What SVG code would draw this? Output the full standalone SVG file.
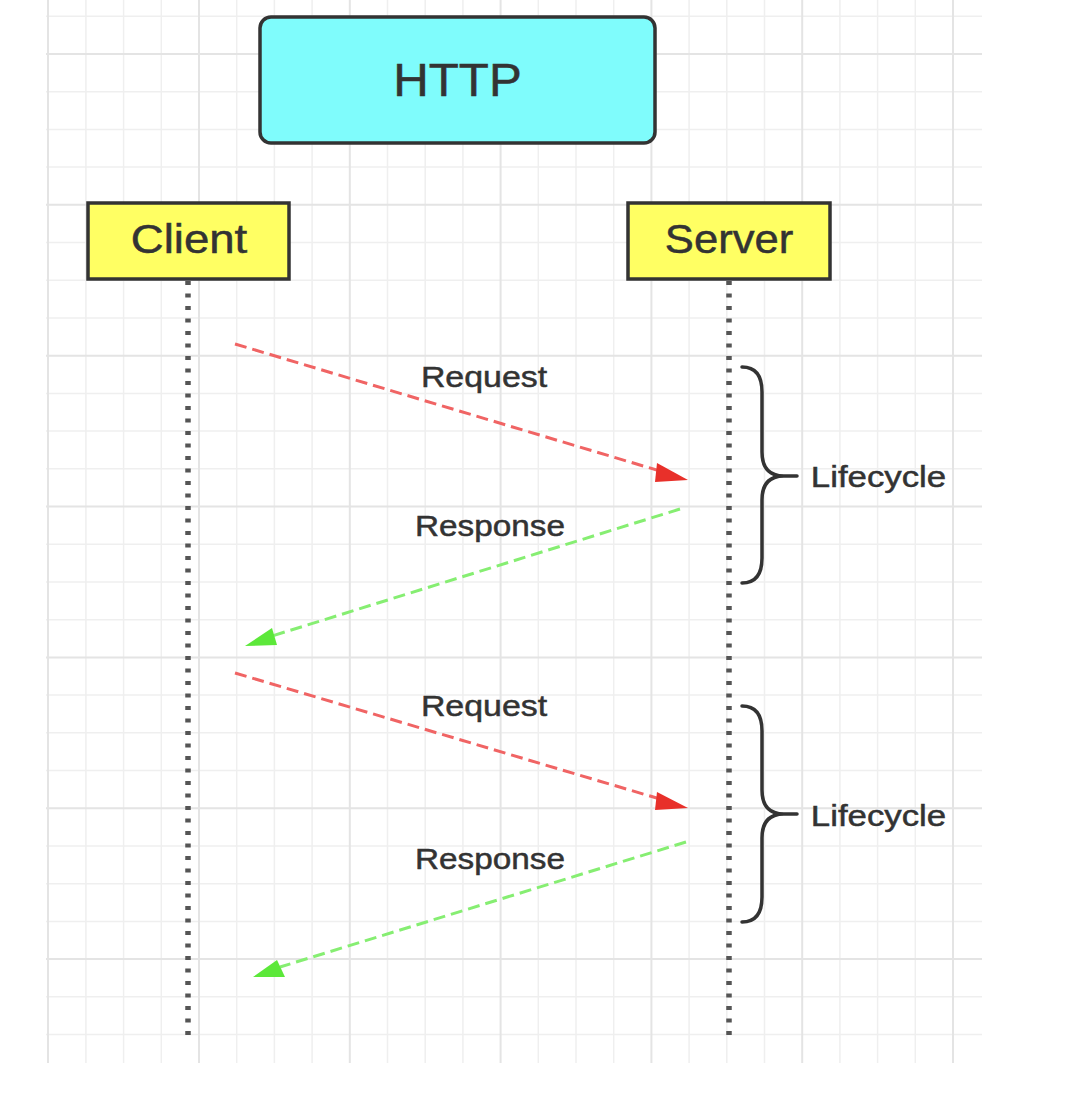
<svg xmlns="http://www.w3.org/2000/svg" width="1072" height="1104" viewBox="0 0 1072 1104">
<style>
.minor{stroke:#efefef;stroke-width:1.5;fill:none}
.major{stroke:#e4e4e4;stroke-width:2;fill:none}
.box{stroke:#333;stroke-width:3.5}
.yellow{fill:#ffff63}
.lbl{font-family:"Liberation Sans",Arial,sans-serif;fill:#333;stroke:#333;stroke-width:0.5;text-anchor:middle}
.life{stroke:#555;stroke-width:5.5;stroke-dasharray:4 8.5;fill:none}
.req{stroke:#f06464;stroke-width:3;stroke-dasharray:12 6;fill:none}
.res{stroke:#86ee72;stroke-width:3;stroke-dasharray:12 6;fill:none}
.brace{stroke:#333;stroke-width:3.5;fill:none;stroke-linecap:round}
</style>
<rect width="1072" height="1104" fill="#fff"/>
<g id="grid">
<path class="minor" d="M85.9,0V1063M123.6,0V1063M161.3,0V1063M236.7,0V1063M274.4,0V1063M312.1,0V1063M387.5,0V1063M425.2,0V1063M462.9,0V1063M538.3,0V1063M576,0V1063M613.7,0V1063M689.1,0V1063M726.8,0V1063M764.5,0V1063M839.9,0V1063M877.6,0V1063M915.3,0V1063
M46,16.3H982M46,91.7H982M46,129.4H982M46,167.1H982M46,242.6H982M46,280.3H982M46,318H982M46,393.4H982M46,431.1H982M46,468.8H982M46,544.3H982M46,582H982M46,619.7H982M46,695.1H982M46,732.8H982M46,770.5H982M46,846H982M46,883.7H982M46,921.4H982M46,996.8H982M46,1034.5H982"/>
<path class="major" d="M48,0V1063M199,0V1063M349.8,0V1063M500.6,0V1063M651.4,0V1063M802.2,0V1063M953,0V1063
M46,54H982M46,204.8H982M46,355.7H982M46,506.5H982M46,657.4H982M46,808.3H982M46,959.1H982"/>
</g>
<g id="http">
<rect class="box" x="260" y="17" width="395" height="126" rx="11" fill="#7ffcfc"/>
<text class="lbl" transform="translate(457.5,96) scale(1.07,1)" font-size="46">HTTP</text>
</g>
<g id="client">
<rect class="box yellow" x="88" y="203" width="201" height="76"/>
<text class="lbl" transform="translate(189,253) scale(1.14,1)" font-size="40">Client</text>
</g>
<g id="server">
<rect class="box yellow" x="628" y="203" width="202" height="76"/>
<text class="lbl" transform="translate(729,253) scale(1.09,1)" font-size="40">Server</text>
</g>
<g id="lifelines">
<line class="life" x1="188" y1="281" x2="188" y2="1038"/>
<line class="life" x1="729" y1="281" x2="729" y2="1038"/>
</g>
<g id="connectors">
<g id="request1">
<line class="req" x1="235" y1="344" x2="660" y2="471"/>
<polygon points="657,463 688,480 655,482" fill="#e8302a"/>
<text class="lbl" transform="translate(484,387) scale(1.13,1)" font-size="30">Request</text>
</g>
<g id="response1">
<line class="res" x1="680" y1="509" x2="272" y2="636"/>
<polygon points="245,646 272,628 277,645" fill="#5ce83a"/>
<text class="lbl" transform="translate(490,536) scale(1.11,1)" font-size="30">Response</text>
</g>
<g id="request2">
<line class="req" x1="235" y1="673" x2="660" y2="799"/>
<polygon points="657,792 688,808 655,810" fill="#e8302a"/>
<text class="lbl" transform="translate(484,716) scale(1.13,1)" font-size="30">Request</text>
</g>
<g id="response2">
<line class="res" x1="686" y1="842" x2="280" y2="967"/>
<polygon points="253,977 277,960 285,977" fill="#5ce83a"/>
<text class="lbl" transform="translate(490,869) scale(1.11,1)" font-size="30">Response</text>
</g>
</g>
<g id="lifecycle1">
<path class="brace" d="M742,367 Q762,367 762,392 L762,452 Q762,476 784,476 L797,476 M784,476 Q762,476 762,500 L762,558 Q762,583 742,583"/>
<text class="lbl" transform="translate(878.5,487) scale(1.16,1)" font-size="30">Lifecycle</text>
</g>
<g id="lifecycle2">
<path class="brace" d="M742,706 Q762,706 762,731 L762,790 Q762,814 784,814 L797,814 M784,814 Q762,814 762,838 L762,897 Q762,922 742,922"/>
<text class="lbl" transform="translate(878.5,826) scale(1.16,1)" font-size="30">Lifecycle</text>
</g>
</svg>
